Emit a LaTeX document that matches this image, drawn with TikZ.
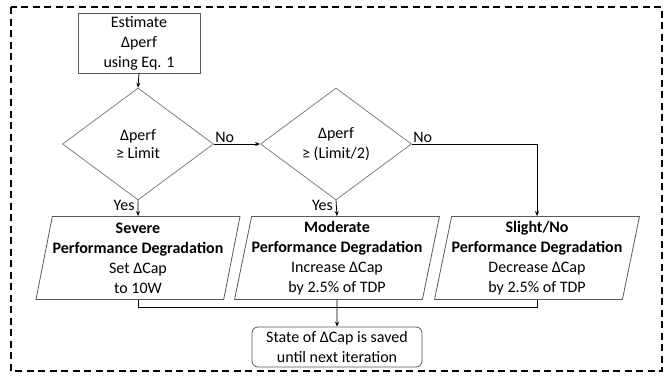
\documentclass[tikz,border=0pt]{standalone}
\usepackage{fontspec}
\setmainfont{Carlito}
\usetikzlibrary{shapes.geometric,arrows.meta,calc}
\definecolor{boxgray}{HTML}{595959}
\definecolor{diagray}{HTML}{808080}
\tikzset{
  base/.style={font=\fontsize{16}{20}\selectfont, align=center, inner sep=0pt},
  procbox/.style={base, draw=boxgray, line width=0.8pt, rectangle},
  decide/.style={base, draw=diagray, line width=0.8pt, diamond, minimum width=151pt, minimum height=112pt},
  iobox/.style={base, draw=boxgray, line width=0.8pt, trapezium, trapezium left angle=77, trapezium right angle=103, trapezium stretches body=true, minimum width=204pt, minimum height=83pt},
  endbox/.style={base, draw=boxgray, line width=0.8pt, rectangle, rounded corners=6pt, minimum width=170pt, minimum height=40pt},
  conn/.style={line width=0.8pt, black},
  arr/.style={conn, -{Stealth[length=5pt,width=4pt]}},
  lbl/.style={font=\fontsize{16}{20}\selectfont, inner sep=1pt},
}
\begin{document}
\begin{tikzpicture}[x=1pt,y=-1pt]
\useasboundingbox (0,0) rectangle (669,375);
\draw[line width=1.5pt, dash pattern=on 7pt off 4.5pt] (11,7) rectangle (662,371);

\node[procbox, minimum width=122pt, minimum height=60pt] (est) at (139,43) {Estimate\\Δperf\\using Eq. 1};
\node[decide] (d1) at (138,144) {\raisebox{-3pt}{\shortstack{Δperf\\[2pt]≥ Limit}}};
\node[decide] (d2) at (336,144) {\raisebox{-3pt}{\shortstack{Δperf\\[2pt]≥ (Limit/2)}}};
\node[iobox] (p1) at (138,258) {\textbf{Severe}\\\textbf{Performance Degradation}\\Set ΔCap\\to 10W};
\node[iobox] (p2) at (337,258) {\textbf{Moderate}\\\textbf{Performance Degradation}\\Increase ΔCap\\by 2.5\% of TDP};
\node[iobox] (p3) at (537,258) {\textbf{Slight/No}\\\textbf{Performance Degradation}\\Decrease ΔCap\\by 2.5\% of TDP};
\node[endbox] (end) at (337,347) {State of ΔCap is saved\\until next iteration};

\draw[arr] (est.south) -- (d1.north);
\draw[arr] (d1.east) -- node[lbl, pos=0, above right] {No} (d2.west);
\draw[arr] (d2.east) node[lbl, above right] {No} -| (p3.north);
\draw[arr] (d1.south) -- node[lbl, pos=0.3, left, xshift=-2pt] {Yes} (p1.north);
\draw[arr] (d2.south) -- node[lbl, pos=0.3, left, xshift=-2pt] {Yes} (p2.north);
\coordinate (j) at ($(p2.south)+(0,7)$);
\draw[conn] (p1.south) |- (j) -| (p3.south);
\draw[arr] (p2.south) -- (end.north);
\end{tikzpicture}
\end{document}
